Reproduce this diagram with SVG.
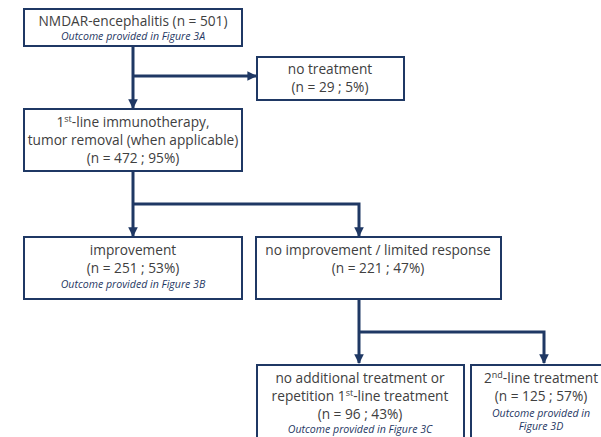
<svg xmlns="http://www.w3.org/2000/svg" width="601" height="437" viewBox="0 0 601 437">
<defs>
<style>
.box{fill:#fff;stroke:#1f3864;stroke-width:2}
.t{font-family:"Open Sans","Liberation Sans",sans-serif;font-size:13.7px;fill:#404040;text-anchor:middle}
.i{font-family:"Open Sans","Liberation Sans",sans-serif;font-size:10.6px;font-style:italic;fill:#1f3864;text-anchor:middle}
.sup{font-size:9px}
.c{fill:none;stroke:#1f3864;stroke-width:3}
</style>
<marker id="ah" viewBox="0 0 10 10" refX="9" refY="5" markerWidth="3.2" markerHeight="3.2" orient="auto" markerUnits="strokeWidth">
<path d="M0,0 L10,5 L0,10 z" fill="#1f3864"/>
</marker>
</defs>
<rect width="601" height="437" fill="#fff"/>
<g id="connectors">
<path class="c" d="M133,46 V108" marker-end="url(#ah)"/>
<path class="c" d="M133,76 H256" marker-end="url(#ah)"/>
<path class="c" d="M133,171 V236" marker-end="url(#ah)"/>
<path class="c" d="M133,204 H359 V236" marker-end="url(#ah)"/>
<path class="c" d="M359,299 V363" marker-end="url(#ah)"/>
<path class="c" d="M359,332 H544 V363" marker-end="url(#ah)"/>
</g>
<g id="n1">
<rect class="box" x="24" y="9" width="218" height="37"/>
<text class="t" x="133" y="26">NMDAR-encephalitis (n = 501)</text>
<text class="i" x="133" y="40">Outcome provided in Figure 3A</text>
</g>
<g id="n2">
<rect class="box" x="257" y="57" width="147" height="43"/>
<text class="t" x="330" y="74">no treatment</text>
<text class="t" x="330" y="92">(n = 29 ; 5%)</text>
</g>
<g id="n3">
<rect class="box" x="24" y="109" width="218" height="62"/>
<text class="t" x="133" y="127">1<tspan class="sup" dy="-5">st</tspan><tspan dy="5">-line immunotherapy,</tspan></text>
<text class="t" x="133" y="145">tumor removal (when applicable)</text>
<text class="t" x="133" y="163">(n = 472 ; 95%)</text>
</g>
<g id="n4">
<rect class="box" x="24" y="237" width="218" height="62"/>
<text class="t" x="133" y="255">improvement</text>
<text class="t" x="133" y="273">(n = 251 ; 53%)</text>
<text class="i" x="133" y="288">Outcome provided in Figure 3B</text>
</g>
<g id="n5">
<rect class="box" x="256" y="237" width="245" height="62"/>
<text class="t" x="378" y="255">no improvement / limited response</text>
<text class="t" x="378" y="273">(n = 221 ; 47%)</text>
</g>
<g id="n6">
<rect class="box" x="257" y="365" width="207" height="80"/>
<text class="t" x="360" y="383">no additional treatment or</text>
<text class="t" x="360" y="401">repetition 1<tspan class="sup" dy="-5">st</tspan><tspan dy="5">-line treatment</tspan></text>
<text class="t" x="360" y="419">(n = 96 ; 43%)</text>
<text class="i" x="360" y="433">Outcome provided in Figure 3C</text>
</g>
<g id="n7">
<rect class="box" x="471" y="365" width="141" height="80"/>
<text class="t" x="541" y="383">2<tspan class="sup" dy="-5">nd</tspan><tspan dy="5">-line treatment</tspan></text>
<text class="t" x="541" y="401">(n = 125 ; 57%)</text>
<text class="i" x="541" y="417">Outcome provided in</text>
<text class="i" x="541" y="430">Figure 3D</text>
</g>
</svg>
